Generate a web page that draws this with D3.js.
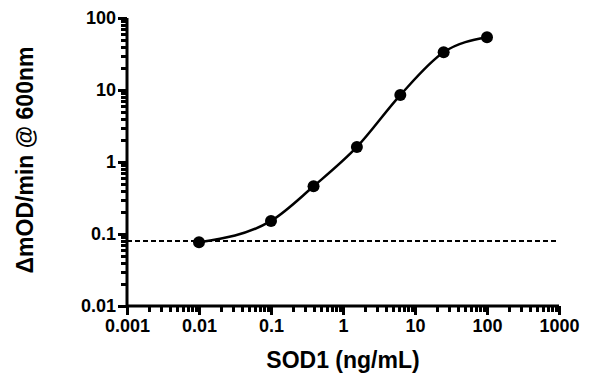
<!DOCTYPE html>
<meta charset="utf-8">
<title>SOD1 standard curve</title>
<body>
<script src="https://cdn.jsdelivr.net/npm/d3@7"></script>
<style>
html, body {
    margin: 0;
    background: #fff;
}
svg {
    display: block;
    font-family: "Liberation Sans", Arial, sans-serif;
    font-weight: bold;
}
</style>
<script>
// SOD1 concentration (ng/mL) and measured rate
var sod1 = [0.01, 0.1, 0.39, 1.56, 6.25, 25, 100],
    rate = [0.077, 0.152, 0.46, 1.62, 8.5, 33.4, 54],
    blank = 0.08,
    xTicks = [0.001, 0.01, 0.1, 1, 10, 100, 1000],
    yTicks = [0.01, 0.1, 1, 10, 100];

var width = 600,
    height = 387,
    margin = { top: 18, right: 41, bottom: 81, left: 127 };

var x = d3.scaleLog()
    .domain([0.001, 1000])
    .range([margin.left, width - margin.right]);

var y = d3.scaleLog()
    .domain([0.01, 100])
    .range([height - margin.bottom, margin.top]);

var svg = d3.select("body").append("svg")
    .attr("width", width)
    .attr("height", height);

function minors(domain) {
    var out = [];
    for (var e = Math.log10(domain[0]); e < Math.log10(domain[1]); e++) {
        for (var k = 2; k <= 9; k++) out.push(k * Math.pow(10, e));
    }
    return out;
}

function fmt(d) {
    return d >= 1 ? String(Math.round(d)) : String(+d.toPrecision(1));
}

function styleAxis(g) {
    g.select(".domain").remove();
    g.selectAll(".tick line")
        .attr("stroke", "#000")
        .attr("stroke-width", 3)
        .attr("shape-rendering", "crispEdges");
    g.selectAll("text")
        .attr("font-size", 18)
        .attr("font-family", "Liberation Sans, Arial, sans-serif")
        .attr("font-weight", "bold")
        .attr("fill", "#000");
}

// x axis
var xg = svg.append("g")
    .attr("transform", "translate(0," + y(0.01) + ")");
xg.append("g")
    .call(d3.axisBottom(x).tickValues(minors(x.domain())).tickSize(6).tickFormat(""))
    .call(styleAxis);
xg.append("g")
    .call(d3.axisBottom(x).tickValues(xTicks).tickSize(9).tickPadding(4).tickFormat(fmt))
    .call(styleAxis);

// y axis
var yg = svg.append("g")
    .attr("transform", "translate(" + x(0.001) + ",0)");
yg.append("g")
    .call(d3.axisLeft(y).tickValues(minors(y.domain())).tickSize(6).tickFormat(""))
    .call(styleAxis);
yg.append("g")
    .call(d3.axisLeft(y).tickValues(yTicks).tickSize(9).tickPadding(2).tickFormat(fmt))
    .call(styleAxis);

// axis lines
svg.append("path")
    .attr("fill", "none")
    .attr("stroke", "#000")
    .attr("stroke-width", 3)
    .attr("d", "M" + x(0.001) + "," + y(100) + "V" + y(0.01) + "H" + x(1000));

// blank line
svg.append("line")
    .attr("x1", x(0.001))
    .attr("x2", x(1000))
    .attr("y1", y(blank))
    .attr("y2", y(blank))
    .attr("stroke", "#000")
    .attr("stroke-width", 2)
    .attr("stroke-dasharray", "5,3");

var pts = sod1.map(function(d, i) { return [d, rate[i]]; });

svg.append("path")
    .datum(pts)
    .attr("fill", "none")
    .attr("stroke", "#000")
    .attr("stroke-width", 2.5)
    .attr("d", d3.line()
        .x(function(d) { return x(d[0]); })
        .y(function(d) { return y(d[1]); })
        .curve(d3.curveMonotoneX));

svg.selectAll("circle")
    .data(pts)
    .enter().append("circle")
    .attr("cx", function(d) { return x(d[0]); })
    .attr("cy", function(d) { return y(d[1]); })
    .attr("r", 6)
    .attr("fill", "#000");

// titles
svg.append("text")
    .attr("x", x(1))
    .attr("y", 368)
    .attr("text-anchor", "middle")
    .attr("font-size", 23)
    .text("SOD1 (ng/mL)");

svg.append("text")
    .attr("transform", "translate(33,160) rotate(-90)")
    .attr("text-anchor", "middle")
    .attr("font-size", 23)
    .text("\u0394mOD/min @ 600nm");
</script>
